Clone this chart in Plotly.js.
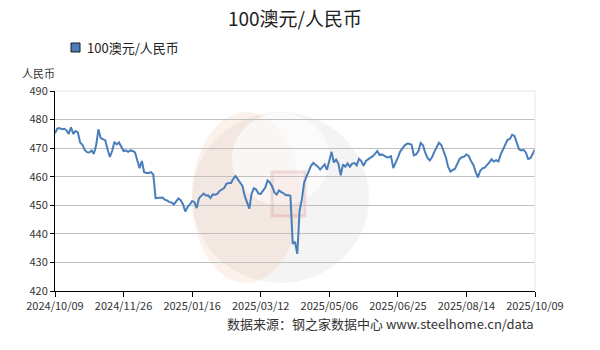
<!DOCTYPE html>
<html>
<head>
<meta charset="utf-8">
<script src="https://cdn.plot.ly/plotly-3.0.1.min.js"></script>
<style>html,body{margin:0;padding:0;background:#fff;}#chart{width:600px;height:350px;}</style>
</head>
<body>
<div id="chart"></div>
<script>
// Tick labels (category axis: equally spaced trading-day positions)
const tickLabels = ["2024/10/09","2024/11/26","2025/01/16","2025/03/12","2025/05/06","2025/06/25","2025/08/14","2025/10/09"];
const pointsPerTick = 30;

// 100 AUD / CNY
const seg1 = [475.2,476.8,477.0,476.6,476.8,476.3,475.0,477.3,475.0,476.0,475.5,472.0,471.2,469.4,468.6,468.5,469.2,468.0,471.0,476.6,473.5,473.0,472.7,469.5,466.9,469.0,472.2,471.3,472.0,470.5];
const seg2 = [469.0,469.2,468.7,469.2,469.0,468.5,465.3,463.0,465.5,461.6,461.3,461.3,461.6,460.8,452.5,452.5,452.5,452.7,452.0,451.7,451.1,451.0,450.3,451.2,452.4,451.8,450.4,447.8,449.4,450.3];
const seg3 = [451.5,451.1,449.0,452.5,453.3,454.1,453.4,453.5,452.5,453.8,453.7,454.0,455.0,455.5,456.0,457.5,457.8,457.8,459.3,460.2,458.9,458.1,456.8,453.3,450.8,448.8,454.0,456.0,455.5,454.1];
const seg4 = [454.0,455.0,456.2,458.7,458.0,456.6,454.5,453.8,455.2,454.6,454.2,453.5,453.6,453.3,436.5,437.2,433.0,448.0,452.0,458.0,460.0,462.0,463.8,464.8,464.2,463.5,462.5,463.6,464.3,462.4];
const seg5 = [466.0,468.7,465.0,466.0,464.5,460.5,464.3,463.5,464.6,463.5,464.6,464.8,464.0,466.3,465.5,463.8,465.5,466.0,466.5,467.2,468.0,469.0,467.6,467.8,467.4,466.8,466.8,467.2,463.0,465.2];
const seg6 = [466.7,468.8,469.8,471.0,471.5,471.5,471.2,467.5,467.8,469.0,471.8,471.0,468.3,466.6,465.7,466.9,468.8,470.5,471.9,471.1,468.8,466.8,463.4,461.8,462.3,462.8,464.5,466.2,466.8,467.0];
const seg7 = [467.8,467.3,465.5,464.2,461.8,459.8,462.0,462.9,463.2,464.0,465.0,466.1,465.3,465.8,465.3,467.8,469.5,470.8,472.9,473.2,474.7,474.3,471.8,469.6,469.2,469.4,468.5,466.2,466.5,468.2,469.6];
const audCny = [].concat(seg1, seg2, seg3, seg4, seg5, seg6, seg7);
const xIndex = audCny.map((_, i) => i);
const tickVals = tickLabels.map((_, i) => i * pointsPerTick);

const seriesName = "100澳元/人民币";
const titleText = "100澳元/人民币";
const unitText = "人民币";
const sourceText = "数据来源：钢之家数据中心 www.steelhome.cn/data";

const CJK = "'Noto Sans CJK SC', 'Noto Sans', sans-serif";
const lineColor = "#4a7ebb";

// pixel -> paper helpers (plot area: x 55..535, y 91..291)
const L = 55, R = 65, T = 91, B = 59, W = 600, H = 350;
const pw = W - L - R, ph = H - T - B;
const px = v => (v - L) / pw;
const py = v => (H - B - v) / ph;

const trace = {
  x: xIndex, y: audCny, type: "scatter", mode: "lines",
  name: seriesName, line: {color: lineColor, width: 2}, showlegend: false,
  hoverinfo: "y"
};

// faint watermark (decorative)
const shapes = [
  {type: "circle", xref: "paper", yref: "paper", x0: px(192), x1: px(369), y0: py(283), y1: py(112),
   fillcolor: "rgba(210,210,210,0.24)", line: {width: 0}, layer: "below"},
  {type: "circle", xref: "paper", yref: "paper", x0: px(192), x1: px(300), y0: py(283), y1: py(112),
   fillcolor: "rgba(245,175,130,0.16)", line: {width: 0}, layer: "below"},
  {type: "circle", xref: "paper", yref: "paper", x0: px(232), x1: px(330), y0: py(205), y1: py(113),
   fillcolor: "rgba(255,255,255,0.6)", line: {width: 0}, layer: "below"},
  {type: "rect", xref: "paper", yref: "paper", x0: px(272), x1: px(305), y0: py(216), y1: py(172),
   fillcolor: "rgba(200,90,90,0.05)", line: {color: "rgba(200,90,90,0.18)", width: 3}, layer: "below"},
  // light frame top/right
  {type: "line", xref: "paper", yref: "paper", x0: 0, x1: 1, y0: 1, y1: 1, line: {color: "#e6e6e6", width: 1}},
  {type: "line", xref: "paper", yref: "paper", x0: 1, x1: 1, y0: 0, y1: 1, line: {color: "#e6e6e6", width: 1}},
  // legend swatch
  {type: "rect", xref: "paper", yref: "paper", x0: px(71), x1: px(80), y0: py(52), y1: py(43),
   fillcolor: lineColor, line: {color: "#1a1a1a", width: 1}}
];

const annotations = [
  {xref: "paper", yref: "paper", x: px(85), y: py(47.5), xanchor: "left", yanchor: "middle",
   text: seriesName, showarrow: false, font: {family: CJK, size: 13, color: "#222"}},
  {xref: "paper", yref: "paper", x: px(38), y: py(73), xanchor: "center", yanchor: "middle",
   text: unitText, showarrow: false, font: {family: CJK, size: 11, color: "#333"}},
  {xref: "paper", yref: "paper", x: px(536), y: py(323), xanchor: "right", yanchor: "middle",
   text: sourceText, showarrow: false, font: {family: CJK, size: 13, color: "#333"}}
];

const layout = {
  width: W, height: H,
  margin: {l: L, r: R, t: T, b: B, pad: 0},
  paper_bgcolor: "#fff", plot_bgcolor: "rgba(0,0,0,0)",
  title: {text: titleText, x: 0.5, xref: "paper", xanchor: "center", y: 1 - 19 / H, yanchor: "middle",
          font: {family: CJK, size: 19, color: "#222"}},
  xaxis: {
    type: "linear", range: [0, audCny.length - 1],
    tickvals: tickVals, ticktext: tickLabels,
    showgrid: false, zeroline: false,
    showline: true, linecolor: "#000", linewidth: 1,
    ticks: "outside", ticklen: 5, tickcolor: "#000", tickwidth: 1,
    tickfont: {family: CJK, size: 11, color: "#333"}
  },
  yaxis: {
    range: [420, 490], dtick: 10, tick0: 420,
    showgrid: true, gridcolor: "#c0c0c0", gridwidth: 1, zeroline: false,
    showline: true, linecolor: "#000", linewidth: 1,
    ticks: "outside", ticklen: 4, tickcolor: "#000", tickwidth: 1,
    tickfont: {family: CJK, size: 11, color: "#333"}
  },
  shapes: shapes,
  annotations: annotations,
  showlegend: false
};

Plotly.newPlot("chart", [trace], layout, {displayModeBar: false, staticPlot: true});
</script>
</body>
</html>
